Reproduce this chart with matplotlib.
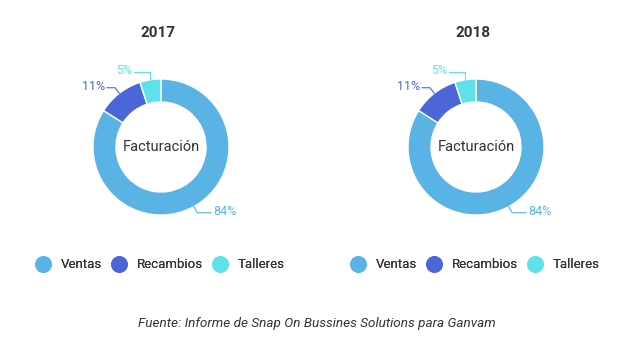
import matplotlib.pyplot as plt
import numpy as np
from matplotlib.lines import Line2D

plt.rcParams["font.family"] = ["Roboto", "DejaVu Sans"]

# data
years = ["2017", "2018"]
categories = ["Ventas", "Recambios", "Talleres"]
shares_2017 = [84, 11, 5]
shares_2018 = [84, 11, 5]
colors = ["#5AB3E5", "#4A66D8", "#5EE1EC"]
center_label = "Facturación"
source = "Fuente: Informe de Snap On Bussines Solutions para Ganvam"

W, H = 622, 352
fig = plt.figure(figsize=(W / 100, H / 100), dpi=100)
ax = fig.add_axes([0, 0, 1, 1])

centers = [(161, H - 147), (476, H - 147)]
radius = 68
ring = 23

for year, shares, (cx, cy) in zip(years, [shares_2017, shares_2018], centers):
    wedges, _ = ax.pie(shares, colors=colors, center=(cx, cy), radius=radius,
                       startangle=90, counterclock=False,
                       wedgeprops=dict(width=ring, edgecolor="white", linewidth=1))
    ax.text(cx, cy, center_label, ha="center", va="center", fontsize=10.5, color="#333333")
    ax.text(cx - 3, cy + radius + 46, year, ha="center", va="center",
            fontsize=11, fontweight="bold", color="#333333")

    # leader lines + percentage labels
    for w, val, col in zip(wedges, shares, colors):
        mid = np.deg2rad((w.theta1 + w.theta2) / 2)
        x0, y0 = cx + radius * np.cos(mid), cy + radius * np.sin(mid)
        x1, y1 = cx + (radius + 7) * np.cos(mid), cy + (radius + 7) * np.sin(mid)
        side = 1 if np.cos(mid) >= 0 else -1
        seg = 14 if side > 0 else 8
        if val == min(shares):
            x1, y1 = x0, y0 + 8
            seg = 16
        x2 = x1 + side * seg
        ax.plot([x0, x1, x2], [y0, y1, y1], color=col, linewidth=0.8)
        ax.text(x2 + side * 2, y1 + 1, f"{val}%", ha="left" if side > 0 else "right",
                va="center", fontsize=9, color=col)

ax.set_xlim(0, W)
ax.set_ylim(0, H)
ax.set_aspect("equal")
ax.axis("off")

handles = [Line2D([], [], marker="o", linestyle="none", markersize=11,
                  markerfacecolor=c, markeredgecolor=c) for c in colors]
for xc in [160 / W, 475 / W]:
    leg = fig.legend(handles, categories, loc="center", bbox_to_anchor=(xc, 1 - 265 / H),
                     ncol=3, frameon=False, fontsize=9.5, handlelength=1.2,
                     handletextpad=0.75, columnspacing=0.7, labelcolor="#333333")
    fig.add_artist(leg)

fig.text(0.51, 1 - 323 / H, source, ha="center", va="center", fontsize=9.7,
         style="italic", color="#333333")

fig.savefig("out.png", dpi=100)
